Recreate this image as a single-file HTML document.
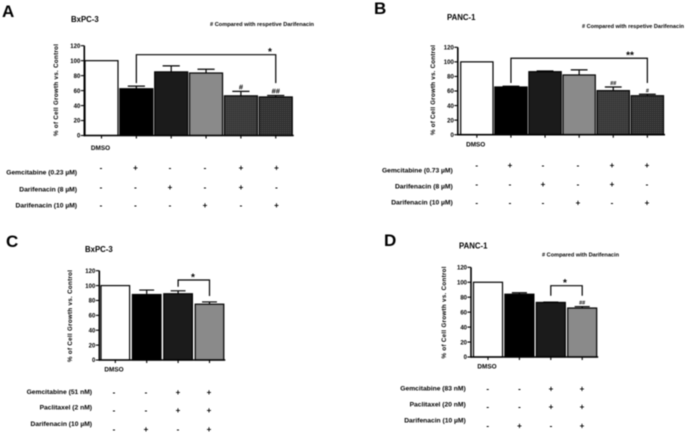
<!DOCTYPE html>
<html lang="en">
<head>
<meta charset="utf-8">
<title>Cell growth charts</title>
<style>
html,body{margin:0;padding:0;background:#fff;width:685px;height:433px;overflow:hidden}
svg{display:block;filter:blur(0.4px)}
text{font-family:"Liberation Sans",sans-serif;font-weight:700;fill:#000}
</style>
</head>
<body>
<svg id="figure" xmlns="http://www.w3.org/2000/svg" width="685" height="433" viewBox="0 0 685 433">
<defs>
<pattern id="hatchA" width="2" height="2" patternUnits="userSpaceOnUse"><rect width="2" height="2" fill="#383838"/><rect width="1" height="1" fill="#4c4c4c"/></pattern>
<pattern id="hatchB" width="2" height="2" patternUnits="userSpaceOnUse"><rect width="2" height="2" fill="#2e2e2e"/><rect width="1" height="1" fill="#505050"/></pattern>
</defs>
</svg>
<script>
var yTicks = [0, 20, 40, 60, 80, 100, 120];

var panelAValues = [100, 62.5, 85, 83.5, 53, 51.5];
var panelAErrors = [0, 3.5, 8, 5, 6, 2];
var panelASignsRow1 = ['-', '+', '-', '-', '+', '+'];
var panelASignsRow2 = ['-', '-', '+', '-', '+', '-'];
var panelASignsRow3 = ['-', '-', '-', '+', '-', '+'];
var panelAMarks = ['', '', '', '', '#', '##'];
var panelARowLabels = ['Gemcitabine (0.23 µM)', 'Darifenacin (8 µM)', 'Darifenacin (10 µM)'];

var panelBValues = [100, 65.5, 86.5, 82, 60.5, 53.5];
var panelBErrors = [0, 1, 1, 7, 5, 2];
var panelBSignsRow1 = ['-', '+', '-', '-', '+', '+'];
var panelBSignsRow2 = ['-', '-', '+', '-', '+', '-'];
var panelBSignsRow3 = ['-', '-', '-', '+', '-', '+'];
var panelBMarks = ['', '', '', '', '##', '#'];
var panelBRowLabels = ['Gemcitabine (0.73 µM)', 'Darifenacin (8 µM)', 'Darifenacin (10 µM)'];

var panelCValues = [100, 88, 89, 75];
var panelCErrors = [0, 6, 4, 3];
var panelCSignsRow1 = ['-', '-', '+', '+'];
var panelCSignsRow2 = ['-', '-', '+', '+'];
var panelCSignsRow3 = ['-', '+', '-', '+'];
var panelCMarks = ['', '', '', ''];
var panelCRowLabels = ['Gemcitabine (51 nM)', 'Paclitaxel (2 nM)', 'Darifenacin (10 µM)'];

var panelDValues = [100, 84, 73, 65.5];
var panelDErrors = [0, 2, 0.5, 2];
var panelDSignsRow1 = ['-', '-', '+', '+'];
var panelDSignsRow2 = ['-', '-', '+', '+'];
var panelDSignsRow3 = ['-', '+', '-', '+'];
var panelDMarks = ['', '', '', '##'];
var panelDRowLabels = ['Gemcitabine (83 nM)', 'Paclitaxel (20 nM)', 'Darifenacin (10 µM)'];

var barFills = ['#ffffff', '#000000', '#1b1b1b', '#8a8a8a', 'url(#hatchA)', 'url(#hatchB)'];
var NS = 'http://www.w3.org/2000/svg';
var root = document.getElementById('figure');

function make(tag, attrs, parent, txt) {
  var el = document.createElementNS(NS, tag);
  for (var k in attrs) el.setAttribute(k, attrs[k]);
  if (txt !== undefined) el.textContent = txt;
  (parent || root).appendChild(el);
  return el;
}

function drawPanel(p) {
  var g = make('g', {});
  
  

  function yScale(v) { return p.y0 - v / 120 * (p.y0 - p.y120); }
  function xBand(i) { return p.barLeft + i * p.step; }
  function xCenter(i) { return xBand(i) + p.barWidth / 2; }

  var letter = make('text', {x: p.letterX, y: p.letterY, 'font-size': 17}, g, p.letter);
  
  

  var title = make('text', {x: p.titleX, y: p.titleY, 'font-size': 7.8}, g, p.title);
  
  

  if (p.note) {
    var note = make('text', {x: p.noteX, y: p.noteY, 'font-size': 5.8, textLength: p.noteWidth, lengthAdjust: 'spacingAndGlyphs'}, g, p.note);
    
    
  }

  p.values.forEach(function (v, i) {
    var bar = make('rect', {x: xBand(i), y: yScale(v), width: p.barWidth, height: p.y0 - yScale(v), fill: barFills[i], stroke: '#000', 'stroke-width': 1.2}, g);
    
    

    var err = p.errors[i];
    if (err > 0) {
      var top = yScale(v + err);
      var eb = make('path', {d: 'M' + xCenter(i) + ' ' + yScale(v) + 'V' + top + 'M' + (xCenter(i) - p.barWidth * 0.26) + ' ' + top + 'H' + (xCenter(i) + p.barWidth * 0.26), stroke: '#000', 'stroke-width': 1.2, fill: 'none'}, g);
      
      
    }

    if (p.marks[i]) {
      var mark = make('text', {x: xCenter(i), y: yScale(v + err) - 2, 'font-size': p.markSize, 'text-anchor': 'middle'}, g, p.marks[i]);
      
      
    }

    var xt = make('line', {x1: xCenter(i), x2: xCenter(i), y1: p.y0, y2: p.y0 + 3, stroke: '#000', 'stroke-width': 1.1}, g);
    
    
  });

  var yAxis = make('line', {x1: p.axisX, x2: p.axisX, y1: yScale(120), y2: p.y0 + 0.8, stroke: '#000', 'stroke-width': 1.6}, g);
  
  

  var xAxis = make('line', {x1: p.axisX, x2: xBand(p.values.length - 1) + p.barWidth + 1.5, y1: p.y0, y2: p.y0, stroke: '#000', 'stroke-width': 1.6}, g);
  
  

  yTicks.forEach(function (t) {
    var tick = make('line', {x1: p.axisX - 3.5, x2: p.axisX, y1: yScale(t), y2: yScale(t), stroke: '#000', 'stroke-width': 1.1}, g);
    
    
    var lab = make('text', {x: p.axisX - 4, y: yScale(t) + 2.2, 'font-size': 6, 'text-anchor': 'end'}, g, t);
    
    
  });

  var yTitle = make('text', {transform: 'translate(' + p.yTitleX + ' ' + p.yTitleY + ') rotate(-90)', 'font-size': 6.2, 'text-anchor': 'middle', textLength: p.yTitleLen, lengthAdjust: 'spacing'}, g, '% of Cell Growth vs. Control');
  
  

  var dmso = make('text', {x: p.dmsoX, y: p.dmsoY, 'font-size': 6.4, 'text-anchor': 'middle'}, g, 'DMSO');
  
  

  var b = p.bracket;
  var bx1 = xCenter(b.from), bx2 = xCenter(b.to);
  var br = make('path', {d: 'M' + bx1 + ' ' + yScale(b.leftValue) + 'V' + yScale(b.topValue) + 'H' + bx2 + 'V' + yScale(b.rightValue), fill: 'none', stroke: '#000', 'stroke-width': 1.2}, g);
  
  
  var star = make('text', {x: p.starX, y: yScale(b.topValue) + 0.5, 'font-size': 10, 'text-anchor': 'middle'}, g, b.label);
  
  

  p.rowLabels.forEach(function (label, r) {
    var rl = make('text', {x: p.rowLabelRight, y: p.rowLabelY[r] + 2.3, 'font-size': 6.7, 'text-anchor': 'end'}, g, label);
    
    
    p.signs[r].forEach(function (s, i) {
      var sg = make('text', {x: p.signX[i], y: p.signY[r] + 2.6, 'font-size': 8, 'text-anchor': 'middle'}, g, s);
      
      
    });
  });
}

drawPanel({id: 'a', letter: 'A', letterX: 2, letterY: 17, title: 'BxPC-3', titleX: 71, titleY: 22,
  note: '# Compared with respetive Darifenacin', noteX: 210, noteY: 26, noteWidth: 104,
  values: panelAValues, errors: panelAErrors, marks: panelAMarks, markSize: 7.5,
  y0: 135.5, y120: 45.7, axisX: 84.3, barLeft: 85, step: 34.85, barWidth: 33,
  yTitleX: 58, yTitleY: 90, yTitleLen: 92, dmsoX: 100.5, dmsoY: 150,
  bracket: {from: 1, to: 5, leftValue: 70, rightValue: 70, topValue: 108, label: '*'}, starX: 270,
  rowLabels: panelARowLabels, rowLabelRight: 77, rowLabelY: [172, 189, 205],
  signs: [panelASignsRow1, panelASignsRow2, panelASignsRow3],
  signX: [101, 135.5, 170, 205, 241, 276.5], signY: [168, 187.5, 205.5]});

drawPanel({id: 'b', letter: 'B', letterX: 374, letterY: 14, title: 'PANC-1', titleX: 447, titleY: 20,
  note: '# Compared with respetive Darifenacin', noteX: 582, noteY: 28, noteWidth: 102,
  values: panelBValues, errors: panelBErrors, marks: panelBMarks, markSize: 5.5,
  y0: 134.7, y120: 47.3, axisX: 457.8, barLeft: 460.7, step: 34.1, barWidth: 32.3,
  yTitleX: 435, yTitleY: 90, yTitleLen: 90, dmsoX: 475.7, dmsoY: 146.5,
  bracket: {from: 1, to: 5, leftValue: 71, rightValue: 71, topValue: 105, label: '**'}, starX: 630,
  rowLabels: panelBRowLabels, rowLabelRight: 452.7, rowLabelY: [170, 186, 202],
  signs: [panelBSignsRow1, panelBSignsRow2, panelBSignsRow3],
  signX: [476.7, 510, 543, 578, 612, 647], signY: [165.5, 184.5, 203]});

drawPanel({id: 'c', letter: 'C', letterX: 6, letterY: 247, title: 'BxPC-3', titleX: 85, titleY: 252,
  note: '', values: panelCValues, errors: panelCErrors, marks: panelCMarks, markSize: 6,
  y0: 360, y120: 270.7, axisX: 99.3, barLeft: 101, step: 31.4, barWidth: 28.6,
  yTitleX: 72, yTitleY: 316, yTitleLen: 92, dmsoX: 114, dmsoY: 371.5,
  bracket: {from: 2, to: 3, leftValue: 98.5, rightValue: 86, topValue: 107.5, label: '*'}, starX: 193,
  rowLabels: panelCRowLabels, rowLabelRight: 92, rowLabelY: [391.5, 407, 423.5],
  signs: [panelCSignsRow1, panelCSignsRow2, panelCSignsRow3],
  signX: [114, 146, 178, 209], signY: [392.5, 410.5, 429.5]});

drawPanel({id: 'd', letter: 'D', letterX: 384, letterY: 246, title: 'PANC-1', titleX: 459, titleY: 248.5,
  note: '# Compared with Darifenacin', noteX: 542, noteY: 256.5, noteWidth: 77,
  values: panelDValues, errors: panelDErrors, marks: panelDMarks, markSize: 5.5,
  y0: 357, y120: 267.3, axisX: 471, barLeft: 473.5, step: 31.4, barWidth: 29,
  yTitleX: 446, yTitleY: 312.5, yTitleLen: 92, dmsoX: 487, dmsoY: 368.5,
  bracket: {from: 2, to: 3, leftValue: 82, rightValue: 82, topValue: 95.4, label: '*'}, starX: 565,
  rowLabels: panelDRowLabels, rowLabelRight: 465.7, rowLabelY: [388, 404, 420],
  signs: [panelDSignsRow1, panelDSignsRow2, panelDSignsRow3],
  signX: [487.7, 519.5, 551, 582], signY: [389, 407, 426]});
</script>
</body>
</html>
